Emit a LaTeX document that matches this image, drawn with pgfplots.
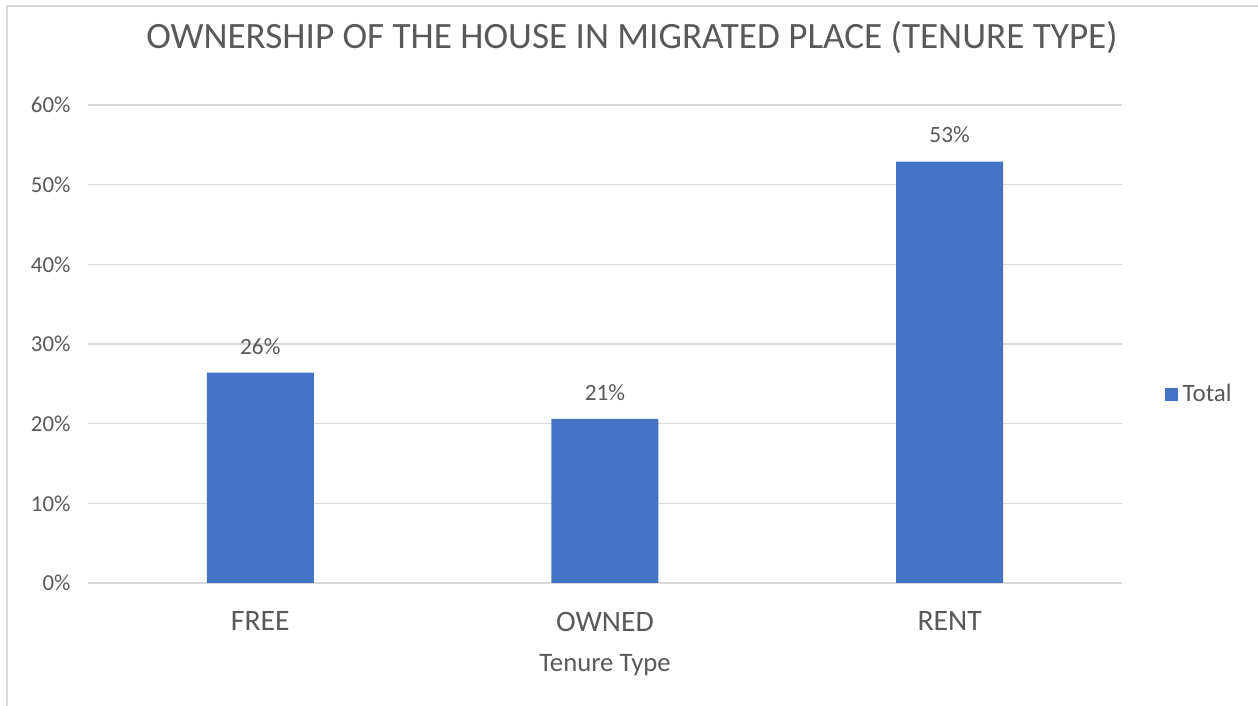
\documentclass[border=0pt]{standalone}
\usepackage{pgfplots}
\pgfplotsset{compat=1.18}
\usepackage{fontspec}
\setmainfont{Carlito}
\definecolor{barblue}{HTML}{4472C4}
\definecolor{txtgray}{HTML}{595959}
\definecolor{gridgray}{HTML}{D9D9D9}

\begin{document}
\begin{tikzpicture}[x=0.6pt,y=0.6pt]
\useasboundingbox (0,0) rectangle (1258,706);
% chart frame (only top and left edges fall inside the picture)
\draw[gridgray,line width=1.2pt] (7,0) -- (7,700) -- (1258,700);
\node[txtgray,font=\fontsize{22.3}{26}\selectfont] at (632,669) {OWNERSHIP OF THE HOUSE IN MIGRATED PLACE (TENURE TYPE)};
\begin{axis}[
    at={(52.8pt,73.8pt)}, anchor=south west,
    scale only axis,
    width=620.4pt, height=286.8pt,
    ybar, bar width=64.2pt,
    xmin=-0.5, xmax=2.5,
    ymin=0, ymax=60,
    xtick=data,
    xticklabels={FREE, OWNED, RENT},
    ytick={0,10,...,60},
    yticklabel={\pgfmathprintnumber{\tick}\%},
    /pgf/number format/assume math mode=true,
    ymajorgrids,
    grid style={gridgray,line width=0.8pt},
    axis line style={draw=none},
    major tick style={draw=none},
    xticklabel style={txtgray,font=\fontsize{17.8}{20}\selectfont,yshift=-9.5pt},
    yticklabel style={txtgray,font=\fontsize{13.7}{16}\selectfont,xshift=-7pt},
    xlabel={Tenure Type},
    xlabel style={txtgray,font=\fontsize{16}{18}\selectfont,yshift=-6.9pt},
    nodes near coords={\pgfmathprintnumber[fixed,precision=0]{\pgfplotspointmeta}\%},
    nodes near coords style={txtgray,font=\fontsize{14}{16}\selectfont,yshift=7.5pt},
    legend style={draw=none,fill=none,at={(1.041,0.395)},anchor=west,
        font=\fontsize{15}{17}\selectfont,text=txtgray,
        inner sep=0pt, nodes={inner xsep=3pt}},
    legend image code/.code={\fill[barblue] (0pt,-3.9pt) rectangle (7.8pt,3.9pt);},
    clip=false,
]
\addplot[fill=barblue,draw=none] coordinates {(0,26.4) (1,20.6) (2,52.9)};
\addlegendentry{Total}
\end{axis}
\end{tikzpicture}
\end{document}
